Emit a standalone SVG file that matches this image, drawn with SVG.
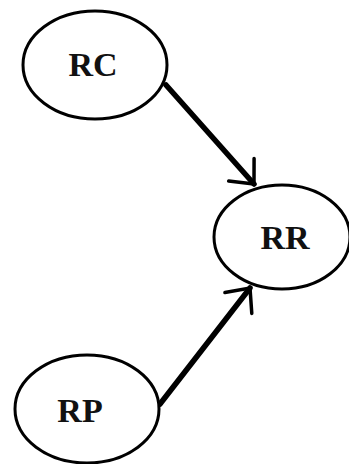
<svg xmlns="http://www.w3.org/2000/svg" width="349" height="464" viewBox="0 0 349 464">
<style>
.node ellipse{fill:#fff;stroke:#000;stroke-width:3}
.node text{font-family:"Liberation Serif","Times New Roman",serif;font-weight:bold;font-size:34px;fill:#111;text-anchor:middle}
.edge{stroke:#000;stroke-width:5.5;fill:none;stroke-linecap:round}
</style>
<defs>
<marker id="arr" markerUnits="userSpaceOnUse" markerWidth="40" markerHeight="40" refX="0" refY="0" viewBox="-30 -20 40 40" orient="auto" overflow="visible">
<path d="M -19 -17 L 0 0 L -19 17" fill="none" stroke="#000" stroke-width="3.5" stroke-linecap="round" stroke-linejoin="miter"/>
</marker>
</defs>
<rect width="349" height="464" fill="#fff"/>
<g id="edges">
<path class="edge" d="M 166 85 L 254 184" marker-end="url(#arr)"/>
<path class="edge" d="M 160 404 L 250 288" marker-end="url(#arr)"/>
</g>
<g id="RC" class="node">
<ellipse cx="95" cy="65" rx="72" ry="54"/>
<text x="93" y="76">RC</text>
</g>
<g id="RR" class="node">
<ellipse cx="282" cy="237" rx="68" ry="52"/>
<text x="285" y="249">RR</text>
</g>
<g id="RP" class="node">
<ellipse cx="87" cy="409" rx="72" ry="54"/>
<text x="80" y="422">RP</text>
</g>
</svg>
